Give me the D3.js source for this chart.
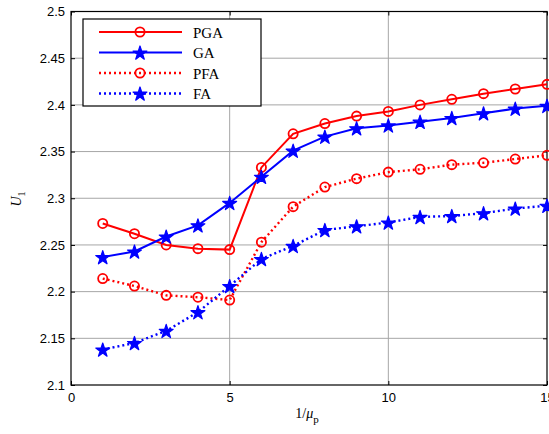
<!DOCTYPE html>
<html>
<head>
<meta charset="utf-8">
<script src="https://cdn.jsdelivr.net/npm/d3@7"></script>
<style>
  html, body { margin: 0; padding: 0; background: #fff; }
  svg { display: block; }
</style>
</head>
<body>
<svg id="chart" width="549" height="434"></svg>
<script>
// Iteration parameter 1/mu_p
const xValues = [1, 2, 3, 4, 5, 6, 7, 8, 9, 10, 11, 12, 13, 14, 15];

// Utility U_1 for each algorithm
const pgaValues = [2.273, 2.262, 2.250, 2.246, 2.245, 2.333, 2.369, 2.380, 2.388, 2.393, 2.400, 2.406, 2.412, 2.417, 2.422];
const gaValues  = [2.237, 2.243, 2.259, 2.271, 2.295, 2.323, 2.351, 2.366, 2.375, 2.378, 2.382, 2.386, 2.391, 2.396, 2.399];
const pfaValues = [2.214, 2.206, 2.196, 2.194, 2.191, 2.253, 2.291, 2.312, 2.321, 2.328, 2.331, 2.336, 2.338, 2.342, 2.346];
const faValues  = [2.138, 2.145, 2.158, 2.178, 2.206, 2.235, 2.249, 2.266, 2.270, 2.274, 2.280, 2.281, 2.284, 2.289, 2.292];

const xTicks = [0, 5, 10, 15];
const yTicks = [2.1, 2.15, 2.2, 2.25, 2.3, 2.35, 2.4, 2.45, 2.5];

const seriesNames = ["PGA", "GA", "PFA", "FA"];

const series = [
  { name: seriesNames[0], values: pgaValues, color: "#ff0000", dotted: false, marker: "circle" },
  { name: seriesNames[1], values: gaValues,  color: "#0000ff", dotted: false, marker: "star" },
  { name: seriesNames[2], values: pfaValues, color: "#ff0000", dotted: true,  marker: "circle" },
  { name: seriesNames[3], values: faValues,  color: "#0000ff", dotted: true,  marker: "star" }
];

const svg = d3.select("#chart");
const plotLeft = 71, plotRight = 547, plotTop = 11.5, plotBottom = 385;

const x = d3.scaleLinear().domain([0, 15]).range([plotLeft, plotRight]);
const y = d3.scaleLinear().domain([2.1, 2.5]).range([plotBottom, plotTop]);

// grid
const grid = svg.append("g");
grid.selectAll("line.gx").data(xTicks.slice(1, -1)).enter().append("line")
  .attr("x1", d => x(d)).attr("x2", d => x(d))
  .attr("y1", plotTop).attr("y2", plotBottom)
  .attr("stroke", "#a6a6a6").attr("stroke-width", 1);
grid.selectAll("line.gy").data(yTicks.slice(1, -1)).enter().append("line")
  .attr("x1", plotLeft).attr("x2", plotRight)
  .attr("y1", d => y(d)).attr("y2", d => y(d))
  .attr("stroke", "#a6a6a6").attr("stroke-width", 1);

// axes
const fmtY = d => String(+d.toFixed(2));
const xAxis = d3.axisBottom(x).tickValues(xTicks).tickSize(-4).tickPadding(8);
const yAxis = d3.axisLeft(y).tickValues(yTicks).tickSize(-4).tickPadding(6).tickFormat(fmtY);
const xAxisTop = d3.axisTop(x).tickValues(xTicks).tickSize(-4).tickFormat("");
const yAxisRight = d3.axisRight(y).tickValues(yTicks).tickSize(-4).tickFormat("");

function styleAxis(g) {
  g.select(".domain").remove();
  g.selectAll(".tick line").attr("stroke", "#000").attr("stroke-width", 1);
  g.selectAll(".tick text").attr("fill", "#000")
    .style("font-family", "'Liberation Sans', Arial, sans-serif").style("font-size", "13px");
}
svg.append("g").attr("transform", `translate(0,${plotBottom})`).call(xAxis).call(styleAxis);
svg.append("g").attr("transform", `translate(${plotLeft},0)`).call(yAxis).call(styleAxis);
svg.append("g").attr("transform", `translate(0,${plotTop})`).call(xAxisTop).call(styleAxis);
svg.append("g").attr("transform", `translate(${plotRight},0)`).call(yAxisRight).call(styleAxis);

// frame
svg.append("rect").attr("x", plotLeft).attr("y", plotTop)
  .attr("width", plotRight - plotLeft).attr("height", plotBottom - plotTop)
  .attr("fill", "none").attr("stroke", "#000").attr("stroke-width", 1.2);

// markers
const starPath = d3.symbol().type(d3.symbolStar).size(60)();
function drawMarker(g, type, color, cx, cy) {
  if (type === "circle") {
    g.append("circle").attr("cx", cx).attr("cy", cy).attr("r", 4.6)
      .attr("fill", "none").attr("stroke", color).attr("stroke-width", 1.8);
  } else {
    g.append("path").attr("d", starPath)
      .attr("transform", `translate(${cx},${cy + 0.8})`)
      .attr("fill", color).attr("stroke", color).attr("stroke-width", 1.2)
      .attr("stroke-linejoin", "round");
  }
}

const line = d3.line().x((d, i) => x(xValues[i])).y(d => y(d));
const plot = svg.append("g");
series.forEach(s => {
  const g = plot.append("g");
  g.append("path").attr("d", line(s.values))
    .attr("fill", "none").attr("stroke", s.color)
    .attr("stroke-width", s.dotted ? 2.4 : 2)
    .attr("stroke-dasharray", s.dotted ? "2,3" : null);
  s.values.forEach((v, i) => drawMarker(g, s.marker, s.color, x(xValues[i]), y(v)));
});

// legend
const lg = svg.append("g");
lg.append("rect").attr("x", 83).attr("y", 19).attr("width", 178).attr("height", 87)
  .attr("fill", "#fff").attr("stroke", "#000").attr("stroke-width", 1.2);
series.forEach((s, i) => {
  const ly = 32 + i * 20.5;
  lg.append("line").attr("x1", 99).attr("x2", 182).attr("y1", ly).attr("y2", ly)
    .attr("stroke", s.color).attr("stroke-width", s.dotted ? 2.4 : 2)
    .attr("stroke-dasharray", s.dotted ? "2,3" : null);
  drawMarker(lg, s.marker, s.color, 140, ly);
  lg.append("text").attr("x", 193).attr("y", ly + 5.5).text(s.name)
    .style("font-family", "'Liberation Serif', 'Times New Roman', serif").style("font-size", "15px");
});

// axis titles
const xt = svg.append("text").attr("x", 307).attr("y", 418)
  .attr("text-anchor", "middle")
  .style("font-family", "'Liberation Serif', 'Times New Roman', serif").style("font-size", "14px");
xt.append("tspan").text("1/");
xt.append("tspan").style("font-style", "italic").text("μ");
xt.append("tspan").attr("dy", 5).style("font-size", "11px").text("p");

const yt = svg.append("text").attr("transform", "translate(21,199) rotate(-90)")
  .attr("text-anchor", "middle")
  .style("font-family", "'Liberation Serif', 'Times New Roman', serif").style("font-size", "14px");
yt.append("tspan").style("font-style", "italic").text("U");
yt.append("tspan").attr("dy", 4).style("font-size", "10px").text("1");
</script>
</body>
</html>
